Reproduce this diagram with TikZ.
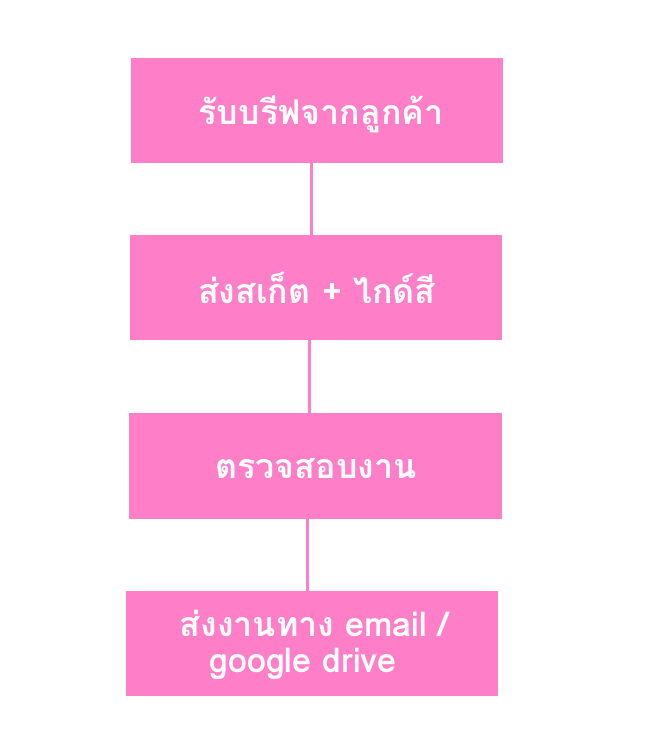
\documentclass[tikz,border=0pt]{standalone}
\usepackage{fontspec}
\newfontfamily\thaifont[Script=Thai]{Loma}
\definecolor{boxpink}{RGB}{255,126,200}
\tikzset{
  stepbox/.style={fill=boxpink, draw=none, inner sep=0pt},
  steptext/.style={text=white, font=\thaifont\bfseries\fontsize{34}{36}\selectfont, align=center, inner sep=0pt},
  link/.style={draw=boxpink, line width=3pt}
}
\begin{document}
\begin{tikzpicture}[x=1pt,y=-1pt]
\useasboundingbox (0,0) rectangle (652,749);
\node[stepbox, minimum width=372pt, minimum height=105pt] (b1) at (317,110.5) {};
\node[stepbox, minimum width=372pt, minimum height=105pt] (b2) at (316,287.5) {};
\node[stepbox, minimum width=373pt, minimum height=106pt] (b3) at (315.5,466) {};
\node[stepbox, minimum width=372pt, minimum height=105pt] (b4) at (312,643.5) {};
\node[steptext] (t1) at (321,114) {รับบรีฟจากลูกค้า};
\node[steptext] (t2) at (317,288) {ส่งสเก็ต + ไกด์สี};
\node[steptext] (t3) at (316,469) {ตรวจสอบงาน};
\node[steptext] (t4) at (314,645) {ส่งงานทาง email /\\google drive\hspace*{22pt}};
\coordinate (c1) at (311,0);
\coordinate (c2) at (309,0);
\coordinate (c3) at (307.5,0);
\draw[link] (b1.south -| c1) -- (b2.north -| c1);
\draw[link] (b2.south -| c2) -- (b3.north -| c2);
\draw[link] (b3.south -| c3) -- (b4.north -| c3);
\end{tikzpicture}
\end{document}
